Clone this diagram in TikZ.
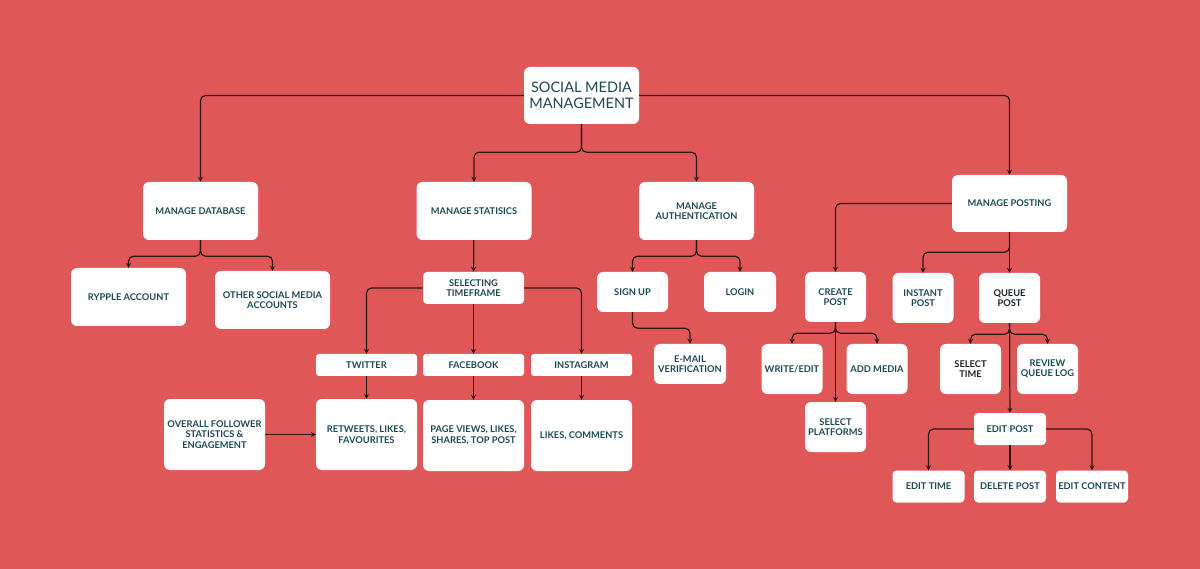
\documentclass[tikz,border=0pt]{standalone}
\usepackage{fontspec}
\setmainfont{Lato}
\usetikzlibrary{arrows, positioning}
\tikzset{>=stealth}
\definecolor{bgred}{RGB}{224,87,87}
\definecolor{txtteal}{RGB}{28,72,84}
\definecolor{txtdark}{RGB}{28,36,42}
\definecolor{linedark}{RGB}{45,22,22}
\tikzset{
  box/.style={fill=white, rounded corners=6pt, align=center, inner sep=0pt,
    text=txtteal, font=\bfseries\fontsize{9.3}{10.5}\selectfont},
  big/.style={box, minimum width=115pt, minimum height=58pt},
  mid/.style={box, minimum width=101pt, minimum height=71pt},
  tab/.style={box, minimum width=101pt, minimum height=22pt, rounded corners=3pt},
  sq/.style={box, minimum width=61pt, minimum height=50pt},
  wide/.style={box, minimum width=72pt, minimum height=32pt, rounded corners=4pt},
  link/.style={->, draw=linedark, line width=1.2pt, rounded corners=5pt},
}

\begin{document}
\begin{tikzpicture}[x=1pt, y=-1pt]
  \fill[bgred] (0,0) rectangle (1200,569);
  \useasboundingbox (0,0) rectangle (1200,569);

  % top level
  \node[big, minimum height=57pt, font=\fontsize{14.5}{15.5}\selectfont] (root) at (581.5,95.5) {SOCIAL MEDIA\\MANAGEMENT};
  \node[big] (db)   at (200.5,211) {MANAGE DATABASE};
  \node[big] (stat) at (474,211)   {MANAGE STATISICS};
  \node[big] (auth) at (696.5,211) {MANAGE\\AUTHENTICATION};
  \node[big, minimum height=57pt] (post) at (1009.5,203.5) {MANAGE POSTING};

  % database
  \node[big] (rypple) at (128.5,297) {RYPPLE ACCOUNT};
  \node[big] (other)  at (272.5,300) {OTHER SOCIAL MEDIA\\ACCOUNTS};

  % statistics
  \node[box, minimum width=101pt, minimum height=32pt, rounded corners=4pt] (frame) at (473.5,288) {SELECTING\\TIMEFRAME};
  \node[tab] (tw) at (366.5,365) {TWITTER};
  \node[tab] (fb) at (473.5,365) {FACEBOOK};
  \node[tab] (ig) at (581.5,365) {INSTAGRAM};
  \node[mid] (overall) at (214.5,434.5) {OVERALL FOLLOWER\\STATISTICS \&\\ENGAGEMENT};
  \node[mid] (twstat) at (366.5,434.5) {RETWEETS, LIKES,\\FAVOURITES};
  \node[mid] (fbstat) at (473.5,435.5) {PAGE VIEWS, LIKES,\\SHARES, TOP POST};
  \node[mid] (igstat) at (581.5,435.5) {LIKES, COMMENTS};

  % authentication
  \node[box, minimum width=71pt, minimum height=40pt] (signup) at (632.5,292) {SIGN UP};
  \node[box, minimum width=72pt, minimum height=40pt] (login)  at (740,292)   {LOGIN};
  \node[box, minimum width=72pt, minimum height=40pt] (email)  at (690,364)   {E-MAIL\\VERIFICATION};

  % posting
  \node[sq] (create)  at (835.5,297) {CREATE\\POST};
  \node[sq] (instant) at (923,298)   {INSTANT\\POST};
  \node[sq, text=txtdark] (queue) at (1009.5,298) {QUEUE\\POST};
  \node[sq] (write)   at (792,369)   {WRITE/EDIT};
  \node[sq] (media)   at (877,369)   {ADD MEDIA};
  \node[sq] (platf)   at (835.5,427) {SELECT\\PLATFORMS};
  \node[sq, text=txtdark] (seltime) at (970.5,369) {SELECT\\TIME};
  \node[sq] (review)  at (1047.5,369) {REVIEW\\QUEUE LOG};
  \node[wide] (edit)  at (1010,429)  {EDIT POST};
  \node[wide] (etime) at (928.5,486.5) {EDIT TIME};
  \node[wide] (edel)  at (1010,486.5)  {DELETE POST};
  \node[wide] (econt) at (1092,486.5)  {EDIT CONTENT};

  % connectors
  \draw[link] (root.west) -| (db.north);
  \draw[link] (root.east) -| (post.north);
  \draw[link] (root.south) -- ++(0,28) -| (stat.north);
  \draw[link] (root.south) -- ++(0,28) -| (auth.north);
  \draw[link] (db.south) -- ++(0,16) -| (rypple.north);
  \draw[link] (db.south) -- ++(0,16) -| (other.north);
  \draw[link] (stat) -- (frame);
  \draw[link] (frame.west) -| (tw.north);
  \draw[link] (frame) -- (fb);
  \draw[link] (frame.east) -| (ig.north);
  \draw[link] (tw) -- (twstat);  \draw[link] (fb) -- (fbstat);  \draw[link] (ig) -- (igstat);
  \draw[link] (overall) -- (twstat);
  \draw[link] (auth.south) -- ++(0,16) -| (signup.north);
  \draw[link] (auth.south) -- ++(0,16) -| (login.north);
  \draw[link] (signup.south) -- ++(0,16) -| (email.north);
  \draw[link] (post.west) -| (create.north);
  \draw[link] (post) -- (queue);
  \draw[link] (post.south) -- ++(0,20) -| (instant.north);
  \draw[link] (create) -- (platf);
  \draw[link] (create.south) -- ++(0,11) -| (write.north);
  \draw[link] (create.south) -- ++(0,11) -| (media.north);
  \draw[link] (queue) -- (edit);
  \draw[link] (queue.south) -- ++(0,11) -| (seltime.north);
  \draw[link] (queue.south) -- ++(0,11) -| (review.north);
  \draw[link] (edit.west) -| (etime.north);
  \draw[link] (edit) -- (edel);
  \draw[link] (edit.east) -| (econt.north);
\end{tikzpicture}
\end{document}
